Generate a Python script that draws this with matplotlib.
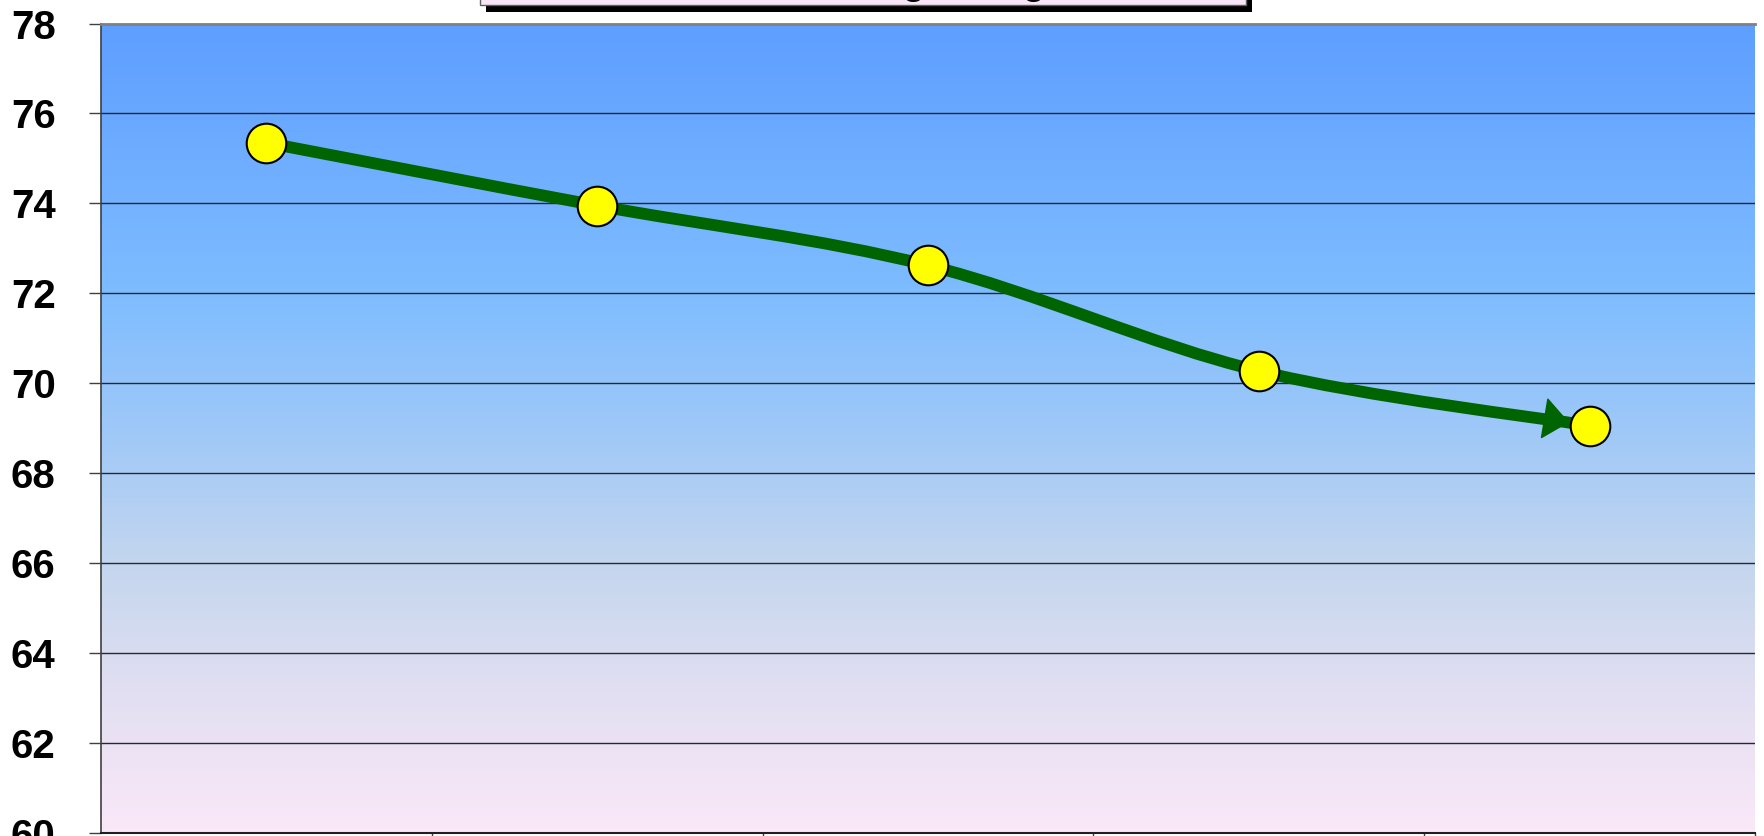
import numpy as np
import matplotlib
matplotlib.use('Agg')
import matplotlib.pyplot as plt
from matplotlib.colors import LinearSegmentedColormap
from matplotlib.path import Path
from matplotlib.patches import PathPatch, Rectangle

# data
categories = [1, 2, 3, 4, 5]
values = [75.35, 73.95, 72.62, 70.27, 69.05]
y_ticks = [60, 62, 64, 66, 68, 70, 72, 74, 76, 78]
title_text = 'Trend in Average Weight'

W, H = 1764, 836
fig = plt.figure(figsize=(W / 100, H / 100), dpi=100)
fig.patch.set_facecolor('white')
ax = fig.add_axes([101 / W, 1 - 832.5 / H, (1755 - 101) / W, (832.5 - 23.6) / H])

ax.set_xlim(0.5, 5.5)
ax.set_ylim(60, 78)

# gradient background, blue at the top to pale pink at the bottom
grad = LinearSegmentedColormap.from_list('bg', [
    (0.0, '#FAE8F8'),
    (0.17, '#E2DFF2'),
    (0.33, '#C4D6EE'),
    (0.5, '#9EC8F8'),
    (0.67, '#7EBCFF'),
    (1.0, '#5E9EFF'),
])
ax.imshow(np.linspace(0, 1, 256).reshape(-1, 1), cmap=grad, origin='lower',
          extent=(0.5, 5.5, 60, 78), aspect='auto', zorder=0)

# horizontal gridlines
for t in y_ticks[1:-1]:
    ax.axhline(t, color='#282830', lw=1.0, zorder=1)

# smooth line through the points (catmull-rom as cubic bezier)
pts = np.column_stack([categories, values])
verts = [pts[0]]
codes = [Path.MOVETO]
for i in range(len(pts) - 1):
    p0 = pts[i - 1] if i > 0 else pts[i]
    p1 = pts[i]
    p2 = pts[i + 1]
    p3 = pts[i + 2] if i + 2 < len(pts) else pts[i + 1]
    c1 = p1 + (p2 - p0) / 6
    c2 = p2 - (p3 - p1) / 6
    verts += [c1, c2, p2]
    codes += [Path.CURVE4] * 3
ax.add_patch(PathPatch(Path(verts, codes), fill=False, edgecolor='#006400',
                       lw=8.5, capstyle='butt', zorder=3))

# arrow head at the end
ax.annotate('', xy=tuple(pts[-1]), xytext=tuple(c2),
            arrowprops=dict(arrowstyle='-|>,head_length=17,head_width=14',
                            mutation_scale=1, color='#006400', lw=1,
                            shrinkA=0, shrinkB=15), zorder=4)

# markers
ax.plot(categories, values, linestyle='none', marker='o', markersize=28.5,
        markerfacecolor='#FFFF00', markeredgecolor='black',
        markeredgewidth=1.5, zorder=5)

# axes styling
ax.set_yticks(y_ticks)
ax.set_yticklabels([str(t) for t in y_ticks], fontsize=29, fontweight='bold',
                   family='Liberation Sans')
ax.tick_params(axis='y', length=8.6, width=1, color='#404040', pad=24)
ax.set_xticks([1.5, 2.5, 3.5, 4.5, 5.5])
ax.set_xticklabels([])
ax.tick_params(axis='x', length=8, width=1, color='#404040', direction='out')
ax.spines['right'].set_visible(False)
ax.spines['top'].set_color('#808080')
ax.spines['top'].set_linewidth(2)
ax.spines['left'].set_color('#404040')
ax.spines['left'].set_linewidth(1.2)
ax.spines['bottom'].set_color('#202020')
ax.spines['bottom'].set_linewidth(1.5)

# title box, mostly cut off at the top edge
fig.patches.append(Rectangle((486 / W, 1 - 12 / H), 766 / W, 0.1,
                             transform=fig.transFigure, facecolor='black',
                             edgecolor='none', zorder=1))
fig.patches.append(Rectangle((480 / W, 1 - 5 / H), 766 / W, 0.1,
                             transform=fig.transFigure, facecolor='#F8E6F8',
                             edgecolor='#606060', lw=1, zorder=2))
fig.text(863 / W, 1 + 6 / H, title_text, ha='center', va='baseline',
         fontsize=27, fontweight='bold', family='Liberation Sans', zorder=3)

fig.savefig('out.png', dpi=100)
